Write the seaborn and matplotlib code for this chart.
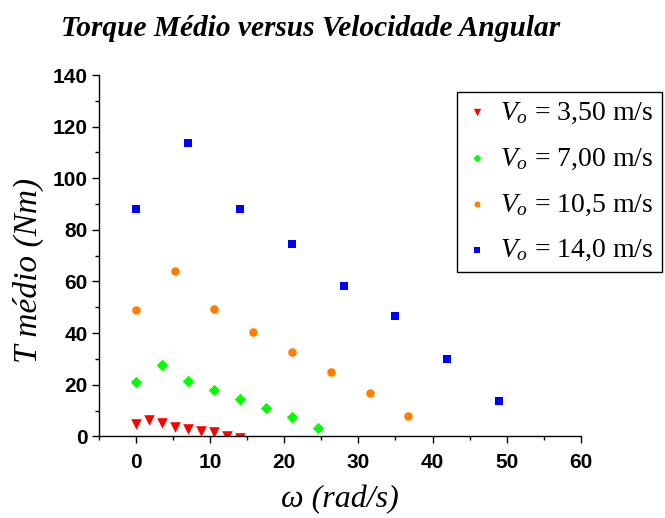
import pandas as pd
import seaborn as sns
import matplotlib.pyplot as plt
from matplotlib.ticker import MultipleLocator

OUTPUT_PATH = "out.png"

# angular velocity (rad/s) and mean torque (Nm) per inlet speed
W_350 = [0, 1.75, 3.5, 5.25, 7, 8.75, 10.5, 12.25, 14]
T_350 = [4.7, 6.3, 5.2, 3.8, 3.0, 2.2, 1.5, 0.3, -0.7]

W_700 = [0, 3.5, 7, 10.5, 14, 17.5, 21, 24.5]
T_700 = [21.0, 27.8, 21.4, 17.9, 14.4, 10.9, 7.6, 3.4]

W_105 = [0, 5.25, 10.5, 15.75, 21, 26.25, 31.5, 36.75]
T_105 = [49.0, 64.0, 49.5, 40.5, 32.5, 24.8, 16.9, 7.8]

W_140 = [0, 7, 14, 21, 28, 35, 42, 49]
T_140 = [88.0, 113.8, 88.0, 74.4, 58.1, 46.6, 30.1, 13.8]

LABELS = [r"$V_o$ = 3,50 m/s", r"$V_o$ = 7,00 m/s",
          r"$V_o$ = 10,5 m/s", r"$V_o$ = 14,0 m/s"]

sns.set_style("ticks")
plt.rcParams['font.family'] = ['Liberation Serif', 'DejaVu Serif']
plt.rcParams['mathtext.fontset'] = 'custom'
plt.rcParams['mathtext.rm'] = 'Liberation Serif'
plt.rcParams['mathtext.it'] = 'Liberation Serif:italic'
for key in ['text.color', 'axes.labelcolor', 'xtick.color', 'ytick.color',
            'axes.edgecolor']:
    plt.rcParams[key] = 'black'


def build_frame():
    parts = []
    for w, t, lab in zip([W_350, W_700, W_105, W_140],
                         [T_350, T_700, T_105, T_140], LABELS):
        parts.append(pd.DataFrame({'w': w, 't': t, 'serie': lab}))
    return pd.concat(parts, ignore_index=True)


def plot(df):
    fig = plt.figure(figsize=(6.65, 5.18), dpi=100)
    ax = fig.add_axes([0.1483, 0.1577, 0.7254, 0.6975])

    styles = {
        LABELS[0]: ('v', '#ff0000', 58),
        LABELS[1]: ('D', '#00ff00', 34),
        LABELS[2]: ('o', '#ff8000', 38),
        LABELS[3]: ('s', '#0000ff', 28),
    }
    for lab in LABELS:
        m, c, s = styles[lab]
        sub = df[df['serie'] == lab]
        sns.scatterplot(data=sub, x='w', y='t', marker=m, color=c, s=s,
                        linewidth=0, label=lab, ax=ax)

    ax.set_xlim(-5, 60)
    ax.set_ylim(0, 140)
    ax.xaxis.set_minor_locator(MultipleLocator(5))
    ax.yaxis.set_major_locator(MultipleLocator(20))
    ax.yaxis.set_minor_locator(MultipleLocator(10))
    ax.set_xticks([0, 10, 20, 30, 40, 50, 60])
    ax.set_xlim(-5, 60)
    sns.despine(ax=ax)
    for sp in ax.spines.values():
        sp.set_linewidth(1.0)

    ax.tick_params(which='major', direction='out', length=5, width=1,
                   labelsize=15)
    ax.tick_params(which='minor', direction='out', length=3, width=1)
    ax.tick_params(axis='x', which='major', pad=7)
    ax.tick_params(axis='y', which='major', pad=3)
    for lbl in ax.get_xticklabels() + ax.get_yticklabels():
        lbl.set_fontfamily('Liberation Sans')
        lbl.set_fontweight('bold')

    ax.set_xlabel("ω (rad/s)", fontsize=23, fontstyle='italic', va='center')
    ax.set_ylabel("T médio (Nm)", fontsize=24, fontstyle='italic', va='center')
    ax.xaxis.set_label_coords(0.5, -0.176)
    ax.yaxis.set_label_coords(-0.146, 0.46)

    fig.text(311 / 665, 1 - 28 / 518,
             "Torque Médio versus Velocidade Angular",
             fontsize=21.2, fontweight='bold', fontstyle='italic',
             ha='center', va='center')

    leg = ax.legend(loc='upper right', bbox_to_anchor=(662 / 665, 1 - 92 / 518),
                    bbox_transform=fig.transFigure, fontsize=20,
                    frameon=True, fancybox=False, edgecolor='black',
                    framealpha=1, markerscale=0.7, handletextpad=0.45,
                    labelspacing=0.73, borderpad=0.3, handlelength=0.8,
                    borderaxespad=0)
    leg.get_frame().set_linewidth(1.0)

    fig.savefig(OUTPUT_PATH, dpi=100)


if __name__ == "__main__":
    plot(build_frame())
